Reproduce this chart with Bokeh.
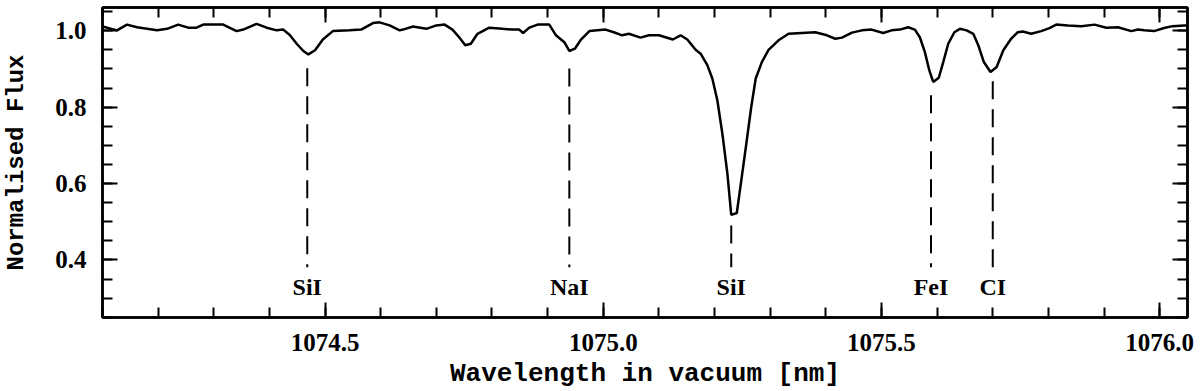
from bokeh.plotting import figure
from bokeh.models import SingleIntervalTicker, PrintfTickFormatter, LinearAxis, Range1d
from bokeh.core.properties import value
from bokeh.embed import file_html
from bokeh.resources import INLINE

# ---- data ----
wavelength = [
    1074.100, 1074.126, 1074.144, 1074.162, 1074.198, 1074.216, 1074.236, 1074.254, 1074.269, 1074.281,
    1074.317, 1074.341, 1074.353, 1074.377, 1074.395, 1074.413, 1074.425, 1074.437, 1074.449, 1074.461,
    1074.470, 1074.482, 1074.496, 1074.514, 1074.544, 1074.565, 1074.586, 1074.598, 1074.616, 1074.634,
    1074.640, 1074.658, 1074.682, 1074.700, 1074.715, 1074.729, 1074.741, 1074.752, 1074.762, 1074.774,
    1074.795, 1074.819, 1074.837, 1074.849, 1074.856, 1074.867, 1074.882, 1074.903, 1074.915, 1074.930,
    1074.939, 1074.949, 1074.960, 1074.975, 1075.004, 1075.019, 1075.034, 1075.046, 1075.067, 1075.082,
    1075.100, 1075.125, 1075.139, 1075.151, 1075.166, 1075.175, 1075.187, 1075.196, 1075.205, 1075.214,
    1075.223, 1075.230, 1075.240, 1075.249, 1075.258, 1075.266, 1075.274, 1075.285, 1075.297, 1075.315,
    1075.333, 1075.357, 1075.381, 1075.402, 1075.417, 1075.429, 1075.447, 1075.465, 1075.482, 1075.503,
    1075.518, 1075.533, 1075.548, 1075.560, 1075.569, 1075.578, 1075.586, 1075.593, 1075.603, 1075.611,
    1075.620, 1075.631, 1075.641, 1075.653, 1075.665, 1075.674, 1075.684, 1075.696, 1075.707, 1075.719,
    1075.733, 1075.745, 1075.754, 1075.769, 1075.787, 1075.802, 1075.814, 1075.835, 1075.859, 1075.883,
    1075.904, 1075.925, 1075.949, 1075.961, 1075.972, 1075.990, 1076.008, 1076.023, 1076.044, 1076.049,
]
flux = [
    1.011, 1.001, 1.016, 1.009, 1.001, 1.005, 1.016, 1.008, 1.008, 1.016,
    1.016, 0.999, 1.003, 1.018, 1.008, 1.001, 1.003, 0.988, 0.966, 0.947,
    0.938, 0.949, 0.977, 0.999, 1.001, 1.003, 1.020, 1.022, 1.014, 1.001,
    1.003, 1.011, 1.005, 1.014, 1.016, 1.003, 0.983, 0.962, 0.966, 0.992,
    1.008, 1.005, 1.003, 1.003, 0.994, 1.008, 1.016, 1.016, 0.988, 0.970,
    0.947, 0.953, 0.977, 0.999, 1.003, 0.996, 0.988, 0.992, 0.982, 0.988,
    0.988, 0.977, 0.988, 0.977, 0.950, 0.940, 0.910, 0.875, 0.818, 0.731,
    0.627, 0.518, 0.523, 0.618, 0.714, 0.801, 0.875, 0.918, 0.950, 0.975,
    0.992, 0.994, 0.996, 0.988, 0.979, 0.982, 0.995, 1.001, 1.003, 0.994,
    1.001, 1.003, 1.009, 1.003, 0.983, 0.944, 0.896, 0.866, 0.877, 0.918,
    0.966, 0.996, 1.005, 1.001, 0.992, 0.962, 0.918, 0.892, 0.905, 0.949,
    0.979, 0.996, 0.998, 0.992, 0.999, 1.007, 1.016, 1.014, 1.012, 1.016,
    1.008, 1.009, 0.999, 1.003, 1.001, 0.999, 1.007, 1.012, 1.014, 1.014,
]

line_names = ["SiI", "NaI", "SiI", "FeI", "CI"]
line_wavelengths = [1074.468, 1074.939, 1075.230, 1075.589, 1075.700]
line_tops = [0.902, 0.901, 0.490, 0.831, 0.868]
line_bottom = 0.381
label_flux = 0.329

x_title = "Wavelength in vacuum [nm]"
y_title = "Normalised Flux"
x_ticks_interval = 0.5
y_ticks_interval = 0.2

# ---- figure ----
p = figure(width=1200, height=391, output_backend="svg", toolbar_location=None,
           x_range=Range1d(1074.10, 1076.05), y_range=Range1d(0.2495, 1.0608),
           min_border_left=99, min_border_right=13, min_border_top=7, min_border_bottom=73,
           background_fill_color="white", border_fill_color="white")
p.xgrid.visible = False
p.ygrid.visible = False
p.outline_line_color = "black"
p.outline_line_width = 2.5

xt = SingleIntervalTicker(interval=x_ticks_interval, num_minor_ticks=5)
yt = SingleIntervalTicker(interval=y_ticks_interval, num_minor_ticks=4)

TICK_FONT = "Liberation Serif"
TITLE_FONT = "Liberation Mono"


def style(ax, labels):
    ax.axis_line_color = "black"
    ax.axis_line_width = 2.5
    ax.major_tick_in = 15
    ax.major_tick_out = 0
    ax.minor_tick_in = 10
    ax.minor_tick_out = 0
    ax.major_tick_line_color = "black"
    ax.minor_tick_line_color = "black"
    ax.major_tick_line_width = 2
    ax.minor_tick_line_width = 2
    ax.major_label_text_color = "black"
    ax.major_label_text_font = TICK_FONT
    ax.major_label_text_font_style = "bold"
    ax.major_label_text_font_size = "25px"
    ax.axis_label_text_font = TITLE_FONT
    ax.axis_label_text_font_style = "bold"
    ax.axis_label_text_color = "black"
    if not labels:
        ax.major_label_text_font_size = "0px"
        ax.major_label_text_color = None
        ax.major_label_standoff = 0


xa = p.xaxis[0]
xa.ticker = xt
xa.formatter = PrintfTickFormatter(format="%.1f")
style(xa, True)
xa.major_label_standoff = 16
xa.axis_label = x_title
xa.axis_label_text_font_size = "26px"
xa.axis_label_standoff = 5

ya = p.yaxis[0]
ya.ticker = yt
ya.formatter = PrintfTickFormatter(format="%.1f")
style(ya, True)
ya.major_label_standoff = 16
ya.axis_label = y_title
ya.axis_label_text_font_size = "24px"
ya.axis_label_standoff = 22

top = LinearAxis(ticker=xt)
style(top, False)
p.add_layout(top, "above")
right = LinearAxis(ticker=yt)
style(right, False)
p.add_layout(right, "right")

# spectrum
p.line(wavelength, flux, line_color="black", line_width=2.5)

# line markers
p.segment(x0=line_wavelengths, y0=line_tops, x1=line_wavelengths,
          y1=[line_bottom] * len(line_wavelengths),
          line_color="black", line_width=2, line_dash="18 10")
p.text(x=line_wavelengths, y=[label_flux] * len(line_wavelengths), text=line_names,
       text_align="center", text_baseline="middle", text_color="black",
       text_font=value(TICK_FONT), text_font_style="bold", text_font_size="24px")

open("out.html", "w").write(file_html(p, INLINE))
